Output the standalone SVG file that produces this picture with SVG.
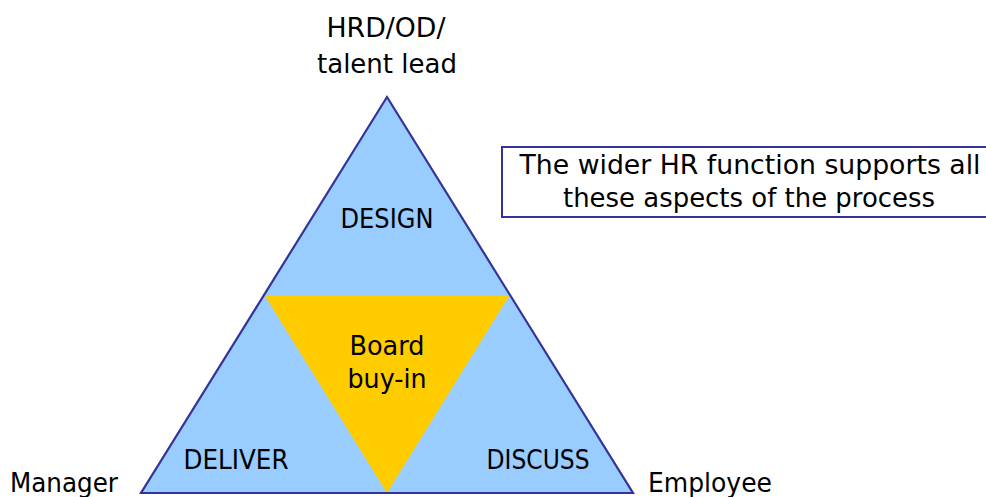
<svg xmlns="http://www.w3.org/2000/svg" width="986" height="497" viewBox="0 0 986 497">
<style>
text{font-family:"DejaVu Sans","Noto Sans",sans-serif;font-size:26px;fill:#000;text-anchor:middle}
.outer{fill:#99CCFF;stroke:#333399;stroke-width:2.2}
.inner{fill:#FFCC00;stroke:none}
.box{fill:#fff;stroke:#333399;stroke-width:2}
</style>
<rect width="986" height="497" fill="#fff"/>
<g id="pyramid">
<polygon class="outer" points="387,97 633,493 141,493"/>
<polygon class="inner" points="265,296 509,296 387,493"/>
<line x1="141" y1="493" x2="633" y2="493" stroke="#333399" stroke-width="2.2"/>
</g>
<g id="design"><text x="387" y="228" textLength="93" lengthAdjust="spacingAndGlyphs">DESIGN</text></g>
<g id="board"><text x="387" y="355" textLength="75" lengthAdjust="spacingAndGlyphs">Board</text><text x="387" y="388" textLength="79" lengthAdjust="spacingAndGlyphs">buy-in</text></g>
<g id="deliver"><text x="236" y="469" textLength="105" lengthAdjust="spacingAndGlyphs">DELIVER</text></g>
<g id="discuss"><text x="538" y="469" textLength="103" lengthAdjust="spacingAndGlyphs">DISCUSS</text></g>
<g id="hrd"><text x="386" y="37" textLength="119" lengthAdjust="spacingAndGlyphs">HRD/OD/</text><text x="387" y="73" textLength="140" lengthAdjust="spacingAndGlyphs">talent lead</text></g>
<g id="manager"><text x="64" y="492" textLength="108" lengthAdjust="spacingAndGlyphs">Manager</text></g>
<g id="employee"><text x="710" y="492" textLength="124" lengthAdjust="spacingAndGlyphs">Employee</text></g>
<g id="hrbox">
<rect class="box" x="502" y="147" width="490" height="70"/>
<text x="750" y="174" textLength="461" lengthAdjust="spacingAndGlyphs">The wider HR function supports all</text>
<text x="749" y="207" textLength="372" lengthAdjust="spacingAndGlyphs">these aspects of the process</text>
</g>
<g id="connectors"></g>
</svg>
